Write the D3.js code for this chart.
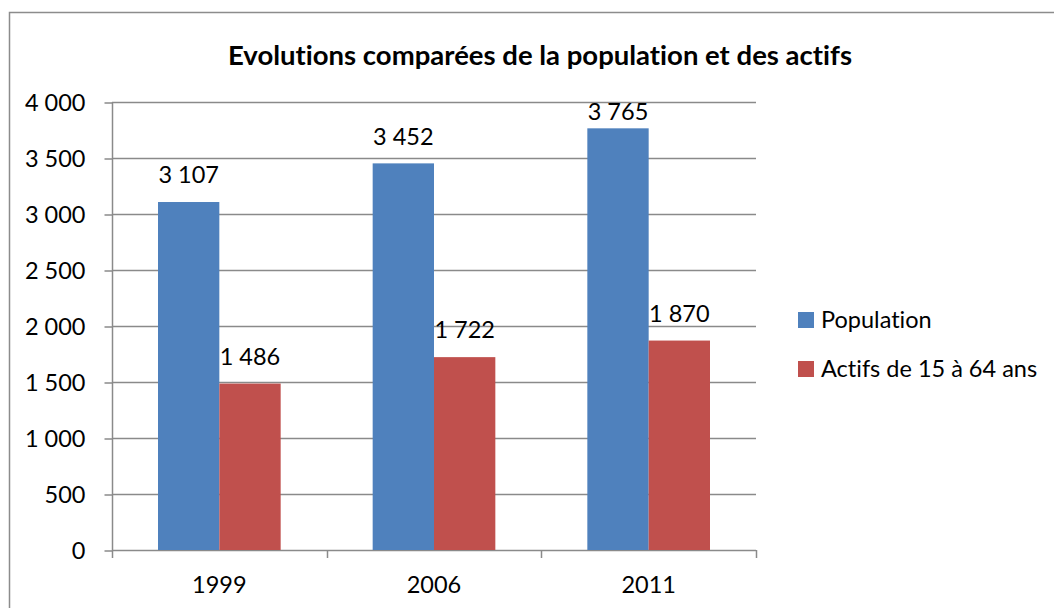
<!DOCTYPE html>
<html>
<head>
<meta charset="utf-8">
<script src="https://cdnjs.cloudflare.com/ajax/libs/d3/7.8.5/d3.min.js"></script>
<style>
  body { margin: 0; background: #fff; }
  svg text { font-family: Lato, "Open Sans", sans-serif; fill: #000; font-variant-ligatures: none; }
</style>
</head>
<body>
<svg id="chart" width="1054" height="608"></svg>
<script>
var TITLE = "Evolutions comparées de la population et des actifs"
var years = ["1999", "2006", "2011"]
var seriesNames = ["Population", "Actifs de 15 à 64 ans"]
var population = [3107, 3452, 3765]
var actifs = [1486, 1722, 1870]
var yTicks = [0, 500, 1000, 1500, 2000, 2500, 3000, 3500, 4000]

var COLORS = ["#4F81BD", "#C0504D"]
var GRID = "#8a8a8a"
var FONT_SIZE = 23.5

var svg = d3.select("#chart")

// plot area
var plotLeft = 112, plotRight = 756, plotTop = 102, plotBottom = 550

// outer chart border (right and bottom sides fall outside the picture)
svg.append("rect")
  .attr("x", 9.5).attr("y", 12.5)
  .attr("width", 1100).attr("height", 700)
  .attr("fill", "none")
  .attr("stroke", "#8c8c8c")
  .attr("stroke-width", 1.5)

var x0 = d3.scaleBand().domain(years).range([plotLeft, plotRight])
var bw = x0.bandwidth()
// Excel style: gap width 150% of a bar, split on both sides
var barW = bw / (seriesNames.length + 1.5)
var x1 = d3.scaleBand().domain(seriesNames)
  .range([barW * 0.75, bw - barW * 0.75])

var y = d3.scaleLinear().domain([0, 4000]).range([plotBottom, plotTop])

var fmt = function(v) {
  return d3.format(",")(v).replace(/,/g, " ")
}

// gridlines
svg.append("g")
  .selectAll("line")
  .data(yTicks.filter(function(d) { return d > 0 }))
  .enter().append("line")
  .attr("x1", plotLeft).attr("x2", plotRight)
  .attr("y1", function(d) { return Math.round(y(d)) + 0.5 })
  .attr("y2", function(d) { return Math.round(y(d)) + 0.5 })
  .attr("stroke", GRID)
  .attr("stroke-width", 1.5)

// y axis
var yAxis = svg.append("g")
  .attr("transform", "translate(" + (plotLeft + 0.5) + ",0.5)")
  .call(d3.axisLeft(y).tickValues(yTicks).tickSize(8).tickPadding(19)
    .tickFormat(fmt))
yAxis.selectAll("path, line").attr("stroke", GRID).attr("stroke-width", 1.5)
yAxis.selectAll("text")
  .style("font-size", FONT_SIZE + "px")
  .style("font-family", "Lato, sans-serif")
  .attr("fill", "#000")
yAxis.select(".domain").attr("d", "M0," + (plotTop - 0.5) + "V" + (plotBottom - 0.5))

// x axis line and boundary ticks
var xg = svg.append("g")
xg.append("line")
  .attr("x1", plotLeft).attr("x2", plotRight)
  .attr("y1", plotBottom + 0.5).attr("y2", plotBottom + 0.5)
  .attr("stroke", GRID).attr("stroke-width", 1.5)
var bounds = years.map(function(d) { return x0(d) }).concat([plotRight])
xg.selectAll(".xtick")
  .data(bounds)
  .enter().append("line")
  .attr("class", "xtick")
  .attr("x1", function(d) { return Math.round(d) + 0.5 })
  .attr("x2", function(d) { return Math.round(d) + 0.5 })
  .attr("y1", plotBottom).attr("y2", plotBottom + 8)
  .attr("stroke", GRID).attr("stroke-width", 1.5)
xg.selectAll(".xlabel")
  .data(years)
  .enter().append("text")
  .attr("class", "xlabel")
  .attr("x", function(d) { return x0(d) + bw / 2 })
  .attr("y", 585)
  .attr("dy", "0.35em")
  .attr("text-anchor", "middle")
  .style("font-size", FONT_SIZE + "px")
  .text(function(d) { return d })

// bars
var rows = years.map(function(yr, i) {
  return { year: yr, values: [
    { name: seriesNames[0], value: population[i], color: COLORS[0] },
    { name: seriesNames[1], value: actifs[i], color: COLORS[1] }
  ] }
})

var groups = svg.append("g").selectAll("g")
  .data(rows)
  .enter().append("g")
  .attr("transform", function(d) { return "translate(" + x0(d.year) + ",0)" })

groups.selectAll("rect")
  .data(function(d) { return d.values })
  .enter().append("rect")
  .attr("x", function(d) { return x1(d.name) })
  .attr("width", x1.bandwidth())
  .attr("y", function(d) { return y(d.value) })
  .attr("height", function(d) { return plotBottom - y(d.value) })
  .attr("fill", function(d) { return d.color })

// data labels, kept inside the plot area like Excel does
groups.selectAll("text")
  .data(function(d) { return d.values })
  .enter().append("text")
  .attr("x", function(d) { return x1(d.name) + x1.bandwidth() / 2 })
  .attr("y", function(d) { return Math.max(y(d.value) - 27, plotTop + 9.5) })
  .attr("dy", "0.35em")
  .attr("text-anchor", "middle")
  .style("font-size", FONT_SIZE + "px")
  .text(function(d) { return fmt(d.value) })

// title
svg.append("text")
  .attr("x", 540).attr("y", 55)
  .attr("dy", "0.35em")
  .attr("text-anchor", "middle")
  .style("font-size", "27.5px")
  .style("font-weight", "bold")
  .text(TITLE)

// legend
var legend = svg.append("g").selectAll("g")
  .data(seriesNames)
  .enter().append("g")
  .attr("transform", function(d, i) { return "translate(798," + (320 + i * 49) + ")" })
legend.append("rect")
  .attr("x", 0).attr("y", -8)
  .attr("width", 16).attr("height", 16)
  .attr("fill", function(d, i) { return COLORS[i] })
legend.append("text")
  .attr("x", 23).attr("y", 0)
  .attr("dy", "0.35em")
  .style("font-size", FONT_SIZE + "px")
  .text(function(d) { return d })
</script>
</body>
</html>
